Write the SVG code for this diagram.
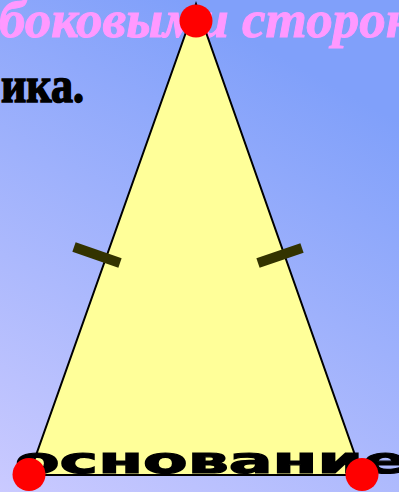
<svg xmlns="http://www.w3.org/2000/svg" width="399" height="492" viewBox="0 0 399 492">
<defs>
<linearGradient id="bg" x1="0" y1="1" x2="0.45" y2="0">
<stop offset="0" stop-color="#cacaff"/>
<stop offset="1" stop-color="#80a0fa"/>
</linearGradient>
<style>
.pink{font-family:"Liberation Serif",serif;font-style:italic;font-weight:bold;fill:#ff99ff;stroke:#ff99ff;stroke-width:1}
.title{font-family:"Liberation Serif",serif;font-weight:bold;fill:#000;stroke:#000;stroke-width:1.6}
.base{font-family:"DejaVu Sans",sans-serif;font-weight:bold;fill:#000;stroke:#000;stroke-width:1.2}
.tick{stroke:#333300;stroke-width:10}
.dot{fill:#ff0000}
</style>
</defs>
<rect width="399" height="492" fill="url(#bg)"/>
<text class="pink" x="-1" y="37" font-size="53">боковыми сторон</text>
<text class="title" x="1" y="102" font-size="50" textLength="83" lengthAdjust="spacingAndGlyphs">ика.</text>
<g id="triangle">
<polygon points="196,4 29,475 362,475" fill="#ffff99" stroke="#000" stroke-width="2"/>
</g>
<g id="connectors">
<line class="tick" x1="74" y1="247" x2="120" y2="263"/>
<line class="tick" x1="258" y1="263" x2="302" y2="248"/>
</g>
<text class="base" x="15" y="473" font-size="36" textLength="392" lengthAdjust="spacingAndGlyphs">основание</text>
<g id="vertexA"><circle class="dot" cx="196" cy="21" r="16.5"/></g>
<g id="vertexB"><circle class="dot" cx="29" cy="474.5" r="16.5"/></g>
<g id="vertexC"><circle class="dot" cx="362" cy="474.5" r="16.5"/></g>
</svg>
